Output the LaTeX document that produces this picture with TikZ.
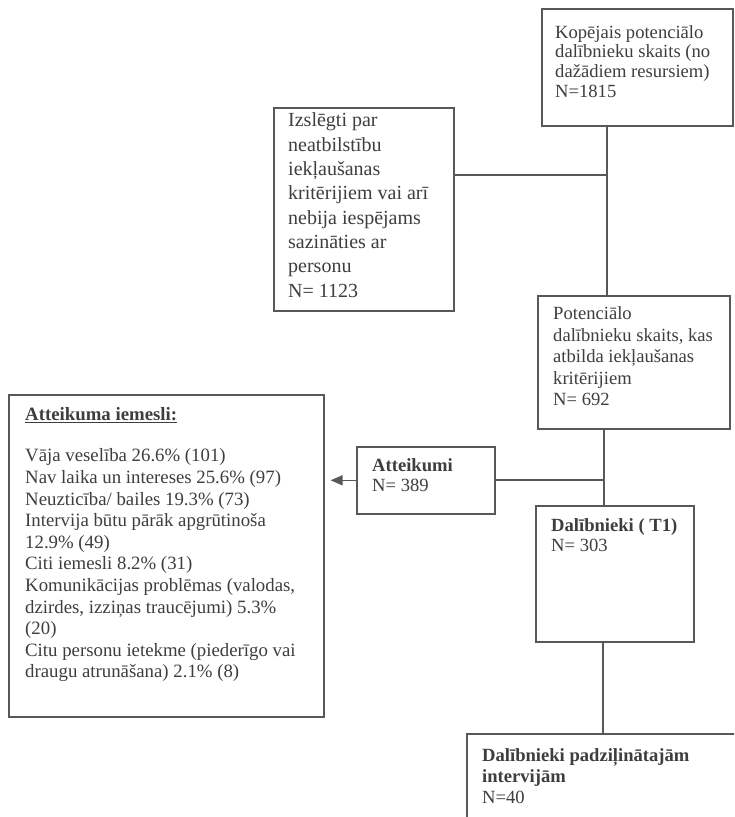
\documentclass[tikz,border=0pt]{standalone}
\usepackage{fontspec}
\setmainfont{Liberation Serif}
\usetikzlibrary{arrows.meta,calc}
\definecolor{lineC}{RGB}{88,88,88}
\definecolor{textC}{RGB}{62,62,62}
\newcommand{\topstrut}{\rule{0pt}{15pt}}
\begin{document}
\begin{tikzpicture}[x=1pt,y=1pt,
  box/.style={draw=lineC,line width=1.6pt,inner sep=0pt,anchor=north west},
  txt/.style n args={2}{anchor=north west,inner sep=0pt,align=left,text=textC,font=\fontsize{#1}{#2}\selectfont},
  conn/.style={draw=lineC,line width=1.4pt}]
\useasboundingbox (0,0) rectangle (734,-817);
\fill[white] (0,0) rectangle (734,-817);
\clip (0,0) rectangle (734,-817);
% boxes
\node[box,minimum width=191,minimum height=117] (A) at (541,-8) {};
\node[box,minimum width=180,minimum height=203] (B) at (273,-107) {};
\node[box,minimum width=192,minimum height=133] (C) at (537,-295) {};
\node[box,minimum width=138,minimum height=67] (D) at (356,-446) {};
\node[box,minimum width=158,minimum height=136] (E) at (535,-505) {};
\node[box,minimum width=300,minimum height=120] (F) at (466,-733) {};
\node[box,minimum width=315,minimum height=322] (G) at (8,-394) {};
% texts
\node[txt={18.6}{19.7}] (tA) at (555,-23) {\topstrut Kopējais potenciālo\\dalībnieku skaits (no\\dažādiem resursiem)\\N=1815};
\node[txt={20}{24.3}] (tB) at (288,-111.7) {\topstrut Izslēgti par\\neatbilstību\\iekļaušanas\\kritērijiem vai arī\\nebija iespējams\\sazināties ar\\personu\\N= 1123};
\node[txt={18.6}{21.5}] (tC) at (553,-304.3) {\topstrut Potenciālo\\dalībnieku skaits, kas\\atbilda iekļaušanas\\kritērijiem\\N= 692};
\node[txt={18.6}{20}] (tD) at (372,-456.7) {\topstrut\textbf{Atteikumi}\\N= 389};
\node[txt={18.6}{20}] (tE) at (551,-516) {\topstrut\textbf{Dalībnieki ( T1)}\\N= 303};
\node[txt={18.6}{20.7}] (tF) at (482,-746.7) {\topstrut\textbf{Dalībnieki padziļinātajām}\\\textbf{intervijām}\\N=40};
\node[txt={18.8}{21.6}] (tG) at (25,-405) {\topstrut\underline{\textbf{Atteikuma iemesli:}}\\[20.1pt]Vāja veselība 26.6\% (101)\\Nav laika un intereses 25.6\% (97)\\Neuzticība/ bailes 19.3\% (73)\\Intervija būtu pārāk apgrūtinoša\\12.9\% (49)\\Citi iemesli 8.2\% (31)\\Komunikācijas problēmas (valodas,\\dzirdes, izziņas traucējumi) 5.3\%\\(20)\\Citu personu ietekme (piederīgo vai\\draugu atrunāšana) 2.1\% (8)};
% connectors
\coordinate (j1) at (607,-175);
\coordinate (j2) at (604,-480);
\coordinate (j3) at (603,-690);
\draw[conn] (A.south -| j1) -- (C.north -| j1);
\draw[conn] (j1) -- (B.east |- j1);
\draw[conn] (C.south -| j2) -- (E.north -| j2);
\draw[conn] (j2) -- (D.east |- j2);
\draw[conn,-{Triangle[length=12pt,width=10pt]},shorten >=6pt] (D.west) -- (G.east |- D.west);
\draw[conn] (E.south -| j3) -- (F.north -| j3);
\end{tikzpicture}
\end{document}
